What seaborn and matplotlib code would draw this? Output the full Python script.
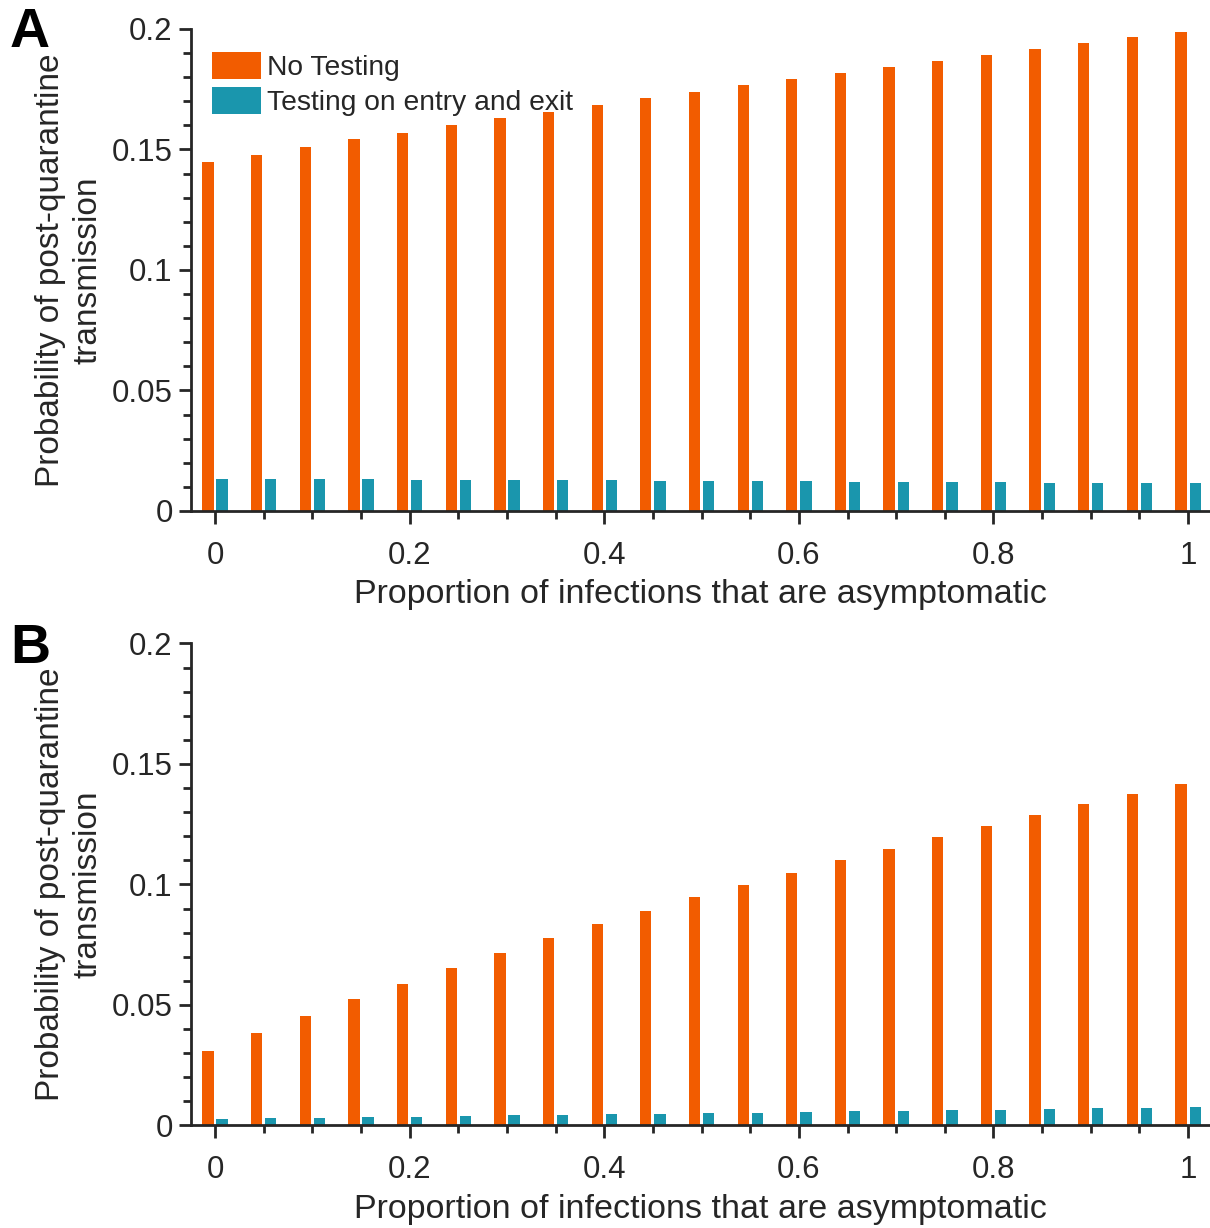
import matplotlib
matplotlib.use("Agg")
import matplotlib.pyplot as plt
from matplotlib.ticker import FixedLocator, MultipleLocator, FuncFormatter
import pandas as pd
import seaborn as sns

# Proportion of infections that are asymptomatic (x positions of bar groups)
proportion = [0, 0.05, 0.1, 0.15, 0.2, 0.25, 0.3, 0.35, 0.4, 0.45, 0.5,
              0.55, 0.6, 0.65, 0.7, 0.75, 0.8, 0.85, 0.9, 0.95, 1.0]
strategies = ["No Testing", "Testing on entry and exit"]

# Panel A: probability of post-quarantine transmission
a_no_testing = [0.1447, 0.1479, 0.1510, 0.1542, 0.1569, 0.1600, 0.1629,
                0.1657, 0.1683, 0.1713, 0.1740, 0.1767, 0.1792, 0.1818,
                0.1843, 0.1868, 0.1893, 0.1917, 0.1942, 0.1965, 0.1988]
a_entry_exit = [0.0133, 0.0133, 0.0131, 0.0131, 0.0130, 0.0130, 0.0129,
                0.0129, 0.0128, 0.0126, 0.0124, 0.0123, 0.0123, 0.0122,
                0.0122, 0.0120, 0.0119, 0.0118, 0.0117, 0.0116, 0.0116]

# Panel B: probability of post-quarantine transmission
b_no_testing = [0.0309, 0.0384, 0.0456, 0.0523, 0.0589, 0.0654, 0.0716,
                0.0776, 0.0835, 0.0890, 0.0946, 0.0998, 0.1049, 0.1100,
                0.1149, 0.1196, 0.1243, 0.1287, 0.1333, 0.1374, 0.1415]
b_entry_exit = [0.0026, 0.0029, 0.0032, 0.0035, 0.0037, 0.0039, 0.0042,
                0.0044, 0.0047, 0.0049, 0.0051, 0.0053, 0.0055, 0.0058,
                0.0061, 0.0063, 0.0066, 0.0069, 0.0071, 0.0073, 0.0076]

x_ticks = [0, 0.2, 0.4, 0.6, 0.8, 1.0]
y_label = "Probability of post-quarantine\ntransmission"
x_label = "Proportion of infections that are asymptomatic"

palette = {"No Testing": "#F25C00", "Testing on entry and exit": "#1A96AD"}
ink = "#262626"


def long_table(no_testing, entry_exit):
    n = len(proportion)
    return pd.DataFrame({
        "proportion": proportion * 2,
        "probability": list(no_testing) + list(entry_exit),
        "strategy": [strategies[0]] * n + [strategies[1]] * n,
    })


sns.set_theme(style="ticks")
plt.rcParams["font.family"] = ["Liberation Sans", "DejaVu Sans"]

fig = plt.figure(figsize=(12.1, 12.28), dpi=100)
ax_a = fig.add_axes([0.1576, 0.5839, 0.8424, 0.3925])
ax_b = fig.add_axes([0.1576, 0.0835, 0.8424, 0.3925])

fmt = FuncFormatter(lambda v, _: f"{v:g}")

panels = [(ax_a, a_no_testing, a_entry_exit, "A", 47),
          (ax_b, b_no_testing, b_entry_exit, "B", 663)]

for ax, no_t, ee, letter, letter_y in panels:
    sns.barplot(data=long_table(no_t, ee), x="proportion", y="probability",
                hue="strategy", hue_order=strategies, palette=palette,
                native_scale=True, width=0.58, gap=0.2, saturation=1,
                linewidth=0, errorbar=None, legend=(ax is ax_a), ax=ax)

    ax.set_xlim(-0.025, 1.0225)
    ax.set_ylim(0, 0.2)
    ax.xaxis.set_major_locator(FixedLocator(x_ticks))
    ax.xaxis.set_minor_locator(MultipleLocator(0.05))
    ax.yaxis.set_major_locator(MultipleLocator(0.05))
    ax.yaxis.set_minor_locator(MultipleLocator(0.01))
    ax.xaxis.set_major_formatter(fmt)
    ax.yaxis.set_major_formatter(fmt)

    ax.tick_params(axis="x", which="major", direction="out", length=9.4,
                   width=2, pad=12, labelsize=22.5, color=ink, labelcolor=ink)
    ax.tick_params(axis="x", which="minor", direction="out", length=5.5,
                   width=2, color=ink)
    ax.tick_params(axis="y", which="major", direction="out", length=9.0,
                   width=2, pad=4, labelsize=22.5, color=ink, labelcolor=ink)
    ax.tick_params(axis="y", which="minor", direction="out", length=6.0,
                   width=2, color=ink)

    for side in ("top", "right"):
        ax.spines[side].set_visible(False)
    for side in ("left", "bottom"):
        ax.spines[side].set_linewidth(2)
        ax.spines[side].set_color(ink)

    ax.set_xlabel(x_label, fontsize=24.5, color=ink, labelpad=6)
    ax.set_ylabel(y_label, fontsize=24, color=ink, labelpad=6,
                  linespacing=1.25)

    fig.text(10 / 1210, 1 - letter_y / 1228, letter, fontsize=40,
             fontweight="bold", color="black", ha="left", va="baseline")

sns.move_legend(ax_a, "upper left", bbox_to_anchor=(0.021, 0.952),
                title=None, frameon=False, fontsize=20.3, handlelength=1.75,
                handleheight=1.1, handletextpad=0.2, labelspacing=0.2,
                borderpad=0, borderaxespad=0)

fig.savefig("out.png", dpi=100)
